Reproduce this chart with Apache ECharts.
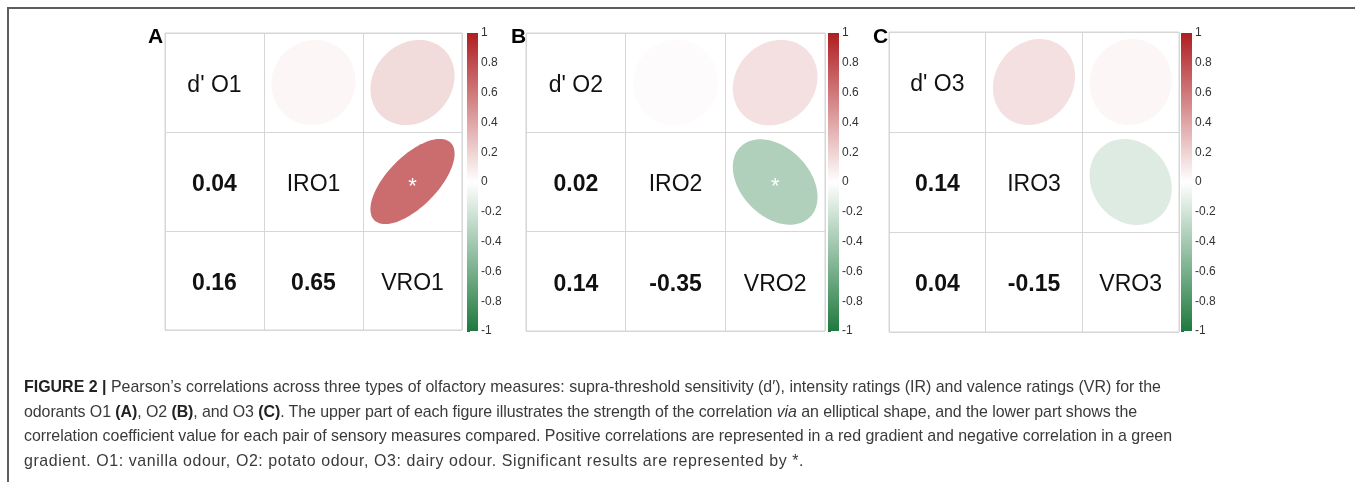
<!DOCTYPE html>
<html>
<head>
<meta charset="utf-8">
<script src="https://cdn.jsdelivr.net/npm/echarts@6/dist/echarts.min.js"></script>
<style>
    html, body { margin: 0; padding: 0; background: #fff; }
    #wrap { position: relative; width: 1355px; height: 482px; overflow: hidden; }
    #chart { position: absolute; left: 0; top: 0; width: 1355px; height: 482px; }
    #frame { position: absolute; left: 7px; top: 7px; right: -4px; bottom: -4px; border-top: 2px solid #5e5e5e; border-left: 2px solid #5e5e5e; }
    #caption { position: absolute; left: 24px; top: 375px; font-family: "Liberation Sans", Arial, sans-serif; font-size: 17px; line-height: 24.7px; color: #3a3a3a; white-space: nowrap; transform-origin: 0 0; }
    #caption b { color: #222; }
</style>
</head>
<body>
<div id="wrap">
    <div id="frame"></div>
    <div id="chart"></div>
    <div id="caption">
        <div><b>FIGURE 2 |</b> Pearson’s correlations across three types of olfactory measures: supra-threshold sensitivity (d′), intensity ratings (IR) and valence ratings (VR) for the</div>
        <div>odorants O1 <b>(A)</b>, O2 <b>(B)</b>, and O3 <b>(C)</b>. The upper part of each figure illustrates the strength of the correlation <i>via</i> an elliptical shape, and the lower part shows the</div>
        <div>correlation coefficient value for each pair of sensory measures compared. Positive correlations are represented in a red gradient and negative correlation in a green</div>
        <div>gradient. O1: vanilla odour, O2: potato odour, O3: dairy odour. Significant results are represented by *.</div>
    </div>
</div>
<script>
// variables on the diagonal of each matrix
const varsA = ["d' O1", "IRO1", "VRO1"];
const varsB = ["d' O2", "IRO2", "VRO2"];
const varsC = ["d' O3", "IRO3", "VRO3"];
// pairs (row, col): d'-IR, d'-VR, IR-VR
const pairs = [[0, 1], [0, 2], [1, 2]];
const corrA = [0.04, 0.16, 0.65];
const corrB = [0.02, 0.14, -0.35];
const corrC = [0.14, 0.04, -0.15];
const sigA = [false, false, true];
const sigB = [false, false, true];
const sigC = [false, false, false];
const panelTags = ["A", "B", "C"];

const RED = [175, 30, 32];
const GREEN = [30, 122, 62];
function colorFor(r) {
    const end = r >= 0 ? RED : GREEN;
    const a = Math.min(1, Math.abs(r));
    const c = end.map(v => Math.round(255 + (v - 255) * a));
    return "rgb(" + c.join(",") + ")";
}

const layouts = [
    { grid: { left: 165, top: 33, width: 297, height: 297 }, bar: { left: 467, top: 33, width: 11, height: 298 }, tag: [148, 35] },
    { grid: { left: 526, top: 33, width: 299, height: 298 }, bar: { left: 828, top: 33, width: 11, height: 298 }, tag: [511, 35] },
    { grid: { left: 889, top: 32, width: 290, height: 300 }, bar: { left: 1181, top: 33, width: 11, height: 298 }, tag: [873, 35] },
];

const panels = [
    { vars: varsA, corr: corrA, sig: sigA },
    { vars: varsB, corr: corrB, sig: sigB },
    { vars: varsC, corr: corrC, sig: sigC },
];

const grids = [], xAxes = [], yAxes = [], series = [], graphics = [];
const font = "Liberation Sans, Arial, sans-serif";

panels.forEach((p, k) => {
    const L = layouts[k];
    const gi = grids.length;
    grids.push({ ...L.grid, show: true, borderColor: "#d6d6d6", borderWidth: 1, backgroundColor: "#fff" });
    grids.push({ ...L.bar, show: false });

    const catAxis = {
        type: "category",
        data: p.vars,
        axisLabel: { show: false },
        axisTick: { show: false },
        axisLine: { show: false },
        splitLine: { show: true, lineStyle: { color: "#d6d6d6", width: 1 } },
    };
    xAxes.push({ ...catAxis, gridIndex: gi });
    yAxes.push({ ...catAxis, gridIndex: gi, inverse: true });
    xAxes.push({ type: "value", gridIndex: gi + 1, min: 0, max: 1, show: false });
    yAxes.push({
        type: "value",
        gridIndex: gi + 1,
        min: -1,
        max: 1,
        interval: 0.2,
        position: "right",
        axisLine: { show: false },
        axisTick: { show: true, length: 3, lineStyle: { color: "#555" } },
        splitLine: { show: false },
        axisLabel: {
            margin: 3,
            fontSize: 12,
            color: "#333",
            fontFamily: font,
            formatter: v => String(Math.round(v * 10) / 10),
        },
    });

    // ellipses in the upper triangle
    series.push({
        type: "custom",
        xAxisIndex: gi,
        yAxisIndex: gi,
        data: pairs.map((pr, i) => [pr[1], pr[0], p.corr[i], p.sig[i] ? 1 : 0]),
        renderItem: (params, api) => {
            const c = api.coord([api.value(0), api.value(1)]);
            const s = api.size([1, 1]);
            const r = api.value(2);
            const d = Math.acos(r);
            const pts = [];
            for (let t = 0; t < 100; t++) {
                const a = (t / 100) * Math.PI * 2;
                pts.push([c[0] + Math.cos(a + d / 2) * s[0] * 0.425, c[1] - Math.cos(a - d / 2) * s[1] * 0.43]);
            }
            const children = [{ type: "polygon", shape: { points: pts }, style: { fill: colorFor(r) } }];
            if (api.value(3)) {
                children.push({
                    type: "text", x: c[0], y: c[1] + 5,
                    style: { text: "*", fill: "#fff", fontSize: 22, fontFamily: font, align: "center", verticalAlign: "middle" },
                });
            }
            return { type: "group", children: children };
        },
        silent: true,
    });

    // diagonal names and lower-triangle coefficients
    const cells = p.vars.map((v, i) => [i, i, v, 0]);
    pairs.forEach((pr, i) => cells.push([pr[0], pr[1], p.corr[i].toFixed(2), 1]));
    series.push({
        type: "custom",
        xAxisIndex: gi,
        yAxisIndex: gi,
        data: cells,
        renderItem: (params, api) => {
            const item = cells[params.dataIndex];
            const c = api.coord([item[0], item[1]]);
            return {
                type: "text", x: c[0], y: c[1] + 3,
                style: {
                    text: item[2], fill: "#111", fontSize: 23, fontFamily: font,
                    fontWeight: item[3] ? "bold" : "normal", align: "center", verticalAlign: "middle",
                },
            };
        },
        silent: true,
    });

    // colour bar
    series.push({
        type: "custom",
        xAxisIndex: gi + 1,
        yAxisIndex: gi + 1,
        data: [[0, 1, 1, -1]],
        renderItem: (params, api) => {
            const a = api.coord([api.value(0), api.value(1)]);
            const b = api.coord([api.value(2), api.value(3)]);
            return {
                type: "rect",
                shape: { x: a[0], y: a[1], width: b[0] - a[0], height: b[1] - a[1] },
                style: {
                    fill: new echarts.graphic.LinearGradient(0, 0, 0, 1, [
                        { offset: 0, color: colorFor(1) },
                        { offset: 0.5, color: "#fff" },
                        { offset: 1, color: colorFor(-1) },
                    ]),
                },
            };
        },
        silent: true,
    });

    graphics.push({
        type: "text", left: L.tag[0], top: L.tag[1] - 8,
        style: { text: panelTags[k], fill: "#000", fontSize: 21, fontWeight: "bold", fontFamily: font },
    });
});

const myChart = echarts.init(document.getElementById("chart"));
myChart.setOption({
    animation: false,
    grid: grids,
    xAxis: xAxes,
    yAxis: yAxes,
    series: series,
    graphic: graphics,
});

// fit caption: one horizontal squeeze for the font, then letter spacing per line
const lineWidths = [1137, 1113, 1148, 780];
const cap = document.getElementById("caption");
const lines = Array.from(cap.querySelectorAll("div"));
function natWidth(el) {
    const range = document.createRange();
    range.selectNodeContents(el);
    return range.getBoundingClientRect().width;
}
const sq = lineWidths[0] / natWidth(lines[0]);
cap.style.transform = "scaleX(" + sq + ")";
lines.forEach((el, i) => {
    const w = natWidth(el) / sq;
    const chars = el.textContent.trim().length;
    el.style.letterSpacing = ((lineWidths[i] / sq - w) / chars) + "px";
});
</script>
</body>
</html>
